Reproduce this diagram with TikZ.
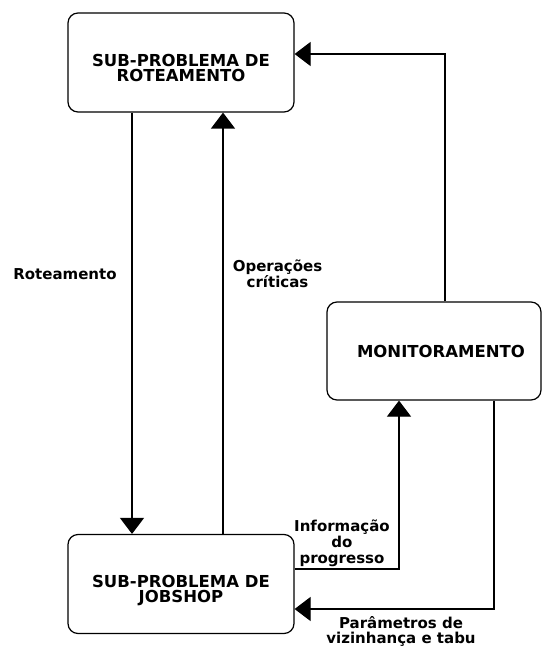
\documentclass[tikz,border=0pt]{standalone}
\usepackage{fontspec}
\setmainfont{DejaVu Sans}
\usetikzlibrary{arrows.meta}
\tikzset{
  box/.style={draw, line width=1.2pt, rounded corners=10pt, minimum width=226pt, minimum height=99pt, inner sep=0pt},
  boxtext/.style={inner sep=0pt, align=center, font=\bfseries\fontsize{16.5}{15}\selectfont},
  lbl/.style={inner sep=0pt, align=center, font=\bfseries\fontsize{15}{16}\selectfont},
  arr/.style={line width=1.2pt, -{Triangle[length=16pt,width=24pt]}},
  ln/.style={line width=1.2pt}
}
\begin{document}
\begin{tikzpicture}[x=1pt,y=-1pt]
\useasboundingbox[fill=white] (0,0) rectangle (543,647);
% boxes
\node[box] (top) at (181,62.5) {};
\node[box] (job) at (181,584) {};
\node[box, minimum width=214pt, minimum height=98pt] (mon) at (434,351) {};
% box texts
\node[boxtext] (toptxt) at (181,68) {SUB-PROBLEMA DE\\ROTEAMENTO};
\node[boxtext] (jobtxt) at (181,590.5) {SUB-PROBLEMA DE\\JOBSHOP};
\node[boxtext] (montxt) at (441,351) {MONITORAMENTO};
% connectors
\draw[arr] (top.south -| 132,0) -- (job.north -| 132,0);
\draw[arr] (job.north -| 223,0) -- (top.south -| 223,0);
\draw[arr] (mon.north -| 445,0) |- (top.east |- 0,54);
\draw[arr] (job.east |- 0,569) -| (mon.south -| 399,0);
\draw[arr] (mon.south -| 494,0) |- (job.east |- 0,609);
% labels
\node[lbl] (l1) at (65,274.5) {Roteamento};
\node[lbl, font=\bfseries\fontsize{15}{13}\selectfont] (l2) at (277.5,274) {Operações\\críticas};
\node[lbl] (l3) at (342,543) {Informação\\do\\progresso};
\node[lbl, font=\bfseries\fontsize{15}{15}\selectfont] (l4) at (401,631.5) {Parâmetros de\\vizinhança e tabu};
\end{tikzpicture}
\end{document}
